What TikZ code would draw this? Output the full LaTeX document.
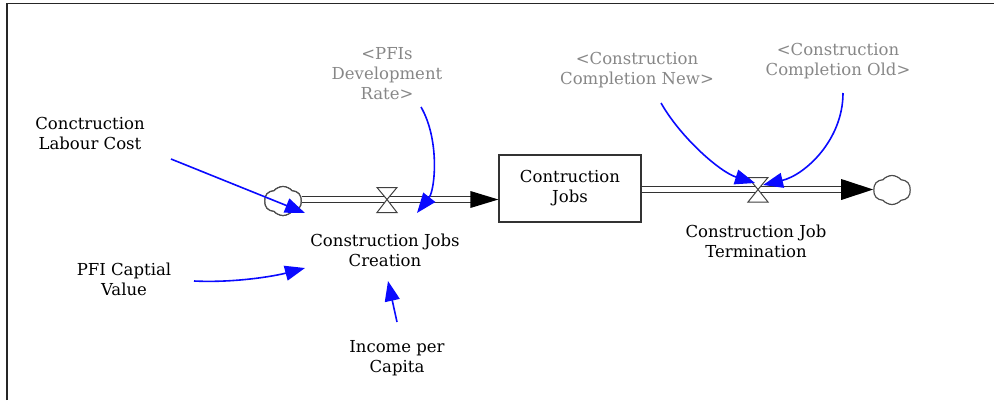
\documentclass[tikz,border=0pt]{standalone}
\usepackage{fontspec}
\setmainfont{DejaVu Serif}
\usetikzlibrary{shapes.symbols,calc,arrows.meta}
\definecolor{linkblue}{RGB}{10,10,255}
\definecolor{shadowgray}{RGB}{135,135,135}
\begin{document}
\begin{tikzpicture}[x=1pt,y=-1pt,
  lbl/.style={align=center,font=\fontsize{16.5}{20}\selectfont,inner sep=0pt},
  shadow/.style={lbl,text=shadowgray},
  link/.style={draw=linkblue,line width=1.6pt,-{Triangle[length=20pt,width=15pt]}},
  pipe/.style={draw=black!80,double=white,double distance=5.5pt,line width=1.1pt},
  cloudy/.style={cloud,draw=black!70,cloud puffs=6,cloud puff arc=100,aspect=1.3,minimum width=37pt,minimum height=29pt,inner sep=0pt,line width=1.2pt,fill=white},
  valve/.style={draw=black!75,fill=white,line width=1pt,line join=miter},
  stock/.style={draw=black!80,line width=1.2pt,minimum width=142pt,minimum height=67pt,lbl},
  tip/.style={fill=black}
  ]
\useasboundingbox (0,0) rectangle (994,400);
\draw[line width=1.8pt,black!85] (7,400) -- (7,3.5) -- (994,3.5);

% labels
\node[lbl] (labour) at (90,133) {Conctruction\\Labour Cost};
\node[lbl] (capital) at (124,279) {PFI Captial\\Value};
\node[shadow] (pfis) at (387,74) {<PFIs\\Development\\Rate>};
\node[lbl] (creation) at (385,250) {Construction Jobs\\Creation};
\node[lbl] (income) at (397,358) {Income per\\Capita};
\node[lbl] (termination) at (756,241) {Construction Job\\Termination};
\node[shadow] (compnew) at (637,70) {<Construction\\Completion New>};
\node[shadow] (compold) at (838,61) {<Construction\\Completion Old>};

% stock and flows
\node[stock] (jobs) at (570,188.5) {Contruction\\Jobs};
\coordinate (valveL) at (387,199.5);
\coordinate (valveR) at (758,189.5);
\node[cloudy] (cloudL) at (283,201) {};
\node[cloudy] (cloudR) at (892,190) {};

\draw[pipe] (cloudL.east |- valveL) -- ($(jobs.west |- valveL)+(-26,0)$);
\fill[tip] (jobs.west |- valveL) -- ++(-28,-8.5) -- ++(0,17) -- cycle;
\draw[pipe] (jobs.east |- valveR) -- ($(cloudR.west |- valveR)+(-30,0)$);
\fill[tip] (cloudR.west |- valveR) -- ++(-32,-10.5) -- ++(0,21) -- cycle;
\node[cloudy] at (cloudL) {};

\draw[valve] ($(valveL)+(-10,-12)$) -- ($(valveL)+(10,-12)$) -- (valveL) -- cycle;
\draw[valve] ($(valveL)+(-10,13)$) -- ($(valveL)+(10,13)$) -- (valveL) -- cycle;
\draw[valve] ($(valveR)+(-10,-12)$) -- ($(valveR)+(10,-12)$) -- (valveR) -- cycle;
\draw[valve] ($(valveR)+(-10,12.5)$) -- ($(valveR)+(10,12.5)$) -- (valveR) -- cycle;

% links
\draw[link] ($(labour)+(81,26)$) -- ($(creation)+(-80,-37)$);
\draw[link] ($(capital)+(70,2)$) .. controls ($(capital)+(111,4)$) and ($(capital)+(151,-3)$) .. ($(creation)+(-80,18)$);
\draw[link] ($(income)+(0,-36)$) -- ($(creation)+(3,31)$);
\draw[link] ($(pfis)+(34,33)$) .. controls ($(pfis)+(53,66)$) and ($(pfis)+(48,116)$) .. ($(creation)+(32,-37)$);
\draw[link] ($(compnew)+(24,33)$) .. controls ($(compnew)+(44,68)$) and ($(compnew)+(83,102)$) .. ($(valveR)+(-3,-6.5)$);
\draw[link] ($(compold)+(5,32)$) .. controls ($(compold)+(5,79)$) and ($(compold)+(-33,114)$) .. ($(valveR)+(5,-4.5)$);
\end{tikzpicture}
\end{document}
